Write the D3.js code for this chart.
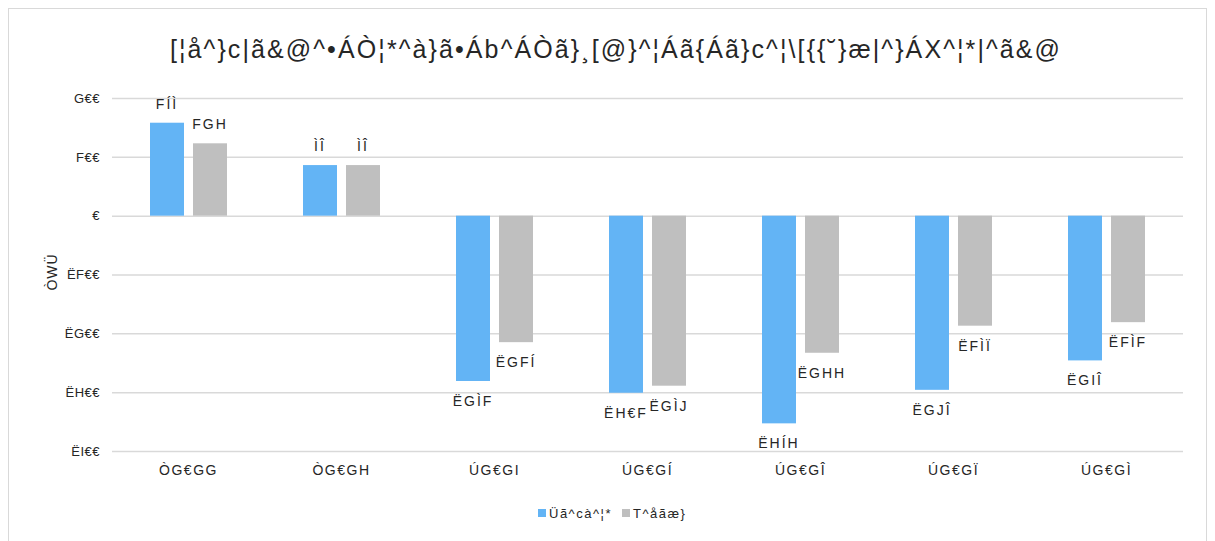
<!DOCTYPE html>
<html>
<head>
<meta charset="utf-8">
<script src="https://cdn.jsdelivr.net/npm/d3@7"></script>
<style>
  body { margin: 0; background: #fff; }
  #mainSVG text { font-family: "Liberation Sans", Arial, sans-serif; fill: #262626; }
</style>
</head>
<body>
<div id="mainSVG"></div>
<script>
(function(){
  'use strict';

  var titleText = '[¦å^}c|ã&@^•ÁÒ¦*^à}ã•Áb^ÁÒã}¸[@}^¦Áã{Áã}c^¦\\[{{˘}æ|^}ÁX^¦*|^ã&@';
  var yTitle = 'ÒWÜ';
  var categories = ['ÒG€GG', 'ÒG€GH', 'ÚG€GI', 'ÚG€GÍ', 'ÚG€GÎ', 'ÚG€GÏ', 'ÚG€GÌ'];
  var seriesNames = ['Üã^cà^¦*', 'T^åãæ}'];
  var cityValues = [158, 86, -281, -301, -353, -296, -246];
  var medianValues = [123, 86, -215, -289, -233, -187, -181];
  var cityLabels = ['FÍÌ', 'ÌÎ', 'ËGÌF', 'ËH€F', 'ËHÍH', 'ËGJÎ', 'ËGIÎ'];
  var medianLabels = ['FGH', 'ÌÎ', 'ËGFÍ', 'ËGÌJ', 'ËGHH', 'ËFÌÏ', 'ËFÌF'];
  var yTicks = [200, 100, 0, -100, -200, -300, -400];
  var yTickLabels = ['G€€', 'F€€', '€', 'ËF€€', 'ËG€€', 'ËH€€', 'ËI€€'];

  var colors = ['#63b4f5', '#bfbfbf'];

  buildSVG(1215, 541);

  function buildSVG(widthSVG, heightSVG) {
    var mainSVG = d3.select('#mainSVG').append('svg')
      .attr('width', widthSVG)
      .attr('height', heightSVG);

    //----- chart border
    mainSVG.append('rect')
      .attr('x', 8.5).attr('y', 8.5)
      .attr('width', 1198).attr('height', 540)
      .attr('fill', '#fff')
      .attr('stroke', '#d9d9d9');

    var x = d3.scaleBand().domain(categories).range([112, 1183]);
    var y = d3.scaleLinear().domain([-400, 200]).range([451, 98]);
    var barW = 34, gap = 9;

    //----- title
    mainSVG.append('text')
      .attr('x', 616).attr('y', 58)
      .attr('text-anchor', 'middle')
      .style('font-size', '25px')
      .style('letter-spacing', '2.1px')
      .text(titleText);

    //----- grid
    var yAxis = d3.axisLeft(y).tickValues(yTicks).tickSize(-(1183 - 112))
      .tickFormat(function (d, i) { return yTickLabels[i]; });
    var gY = mainSVG.append('g').attr('transform', 'translate(112,0)').call(yAxis);
    gY.select('.domain').remove();
    gY.selectAll('.tick line').attr('stroke', '#d9d9d9').attr('stroke-width', 1.5);
    gY.selectAll('.tick text')
      .attr('x', -12)
      .style('font-size', '13px')
      .style('letter-spacing', '0.5px')
      .attr('fill', '#262626');

    //----- y title
    mainSVG.append('text')
      .attr('transform', 'translate(57,272) rotate(-90)')
      .attr('text-anchor', 'middle')
      .style('font-size', '14px')
      .style('letter-spacing', '1px')
      .text(yTitle);

    //----- bars
    var series = [cityValues, medianValues];
    var labels = [cityLabels, medianLabels];
    series.forEach(function (vals, s) {
      var off = s === 0 ? -(barW + gap / 2) : gap / 2;
      var g = mainSVG.append('g');
      g.selectAll('rect').data(vals).enter()
        .append('rect')
        .attr('x', function (d, i) { return x(categories[i]) + x.bandwidth() / 2 + off; })
        .attr('y', function (d) { return y(Math.max(0, d)); })
        .attr('width', barW)
        .attr('height', function (d) { return Math.abs(y(d) - y(0)); })
        .attr('fill', colors[s]);

      //---- value labels
      g.selectAll('text').data(vals).enter()
        .append('text')
        .attr('x', function (d, i) { return x(categories[i]) + x.bandwidth() / 2 + off + barW / 2; })
        .attr('y', function (d) { return d >= 0 ? y(d) - 14 : y(d) + 25; })
        .attr('text-anchor', 'middle')
        .style('font-size', '14px')
        .style('letter-spacing', '2px')
        .text(function (d, i) { return labels[s][i]; });
    });

    //----- x labels
    var xAxis = d3.axisBottom(x).tickSize(0);
    var gX = mainSVG.append('g').attr('transform', 'translate(0,451)').call(xAxis);
    gX.select('.domain').remove();
    gX.selectAll('.tick text')
      .attr('dy', 0).attr('y', 24)
      .style('font-size', '14px')
      .style('letter-spacing', '1.5px')
      .attr('fill', '#262626');

    //----- legend
    var legend = mainSVG.append('g').attr('transform', 'translate(538,513)');
    var lx = [0, 84];
    seriesNames.forEach(function (name, i) {
      legend.append('rect')
        .attr('x', lx[i]).attr('y', -4)
        .attr('width', 8).attr('height', 8)
        .attr('fill', colors[i]);
      legend.append('text')
        .attr('x', lx[i] + 11).attr('y', 5)
        .style('font-size', '13px')
        .style('letter-spacing', '1.5px')
        .text(name);
    });
  }
})();
</script>
</body>
</html>
